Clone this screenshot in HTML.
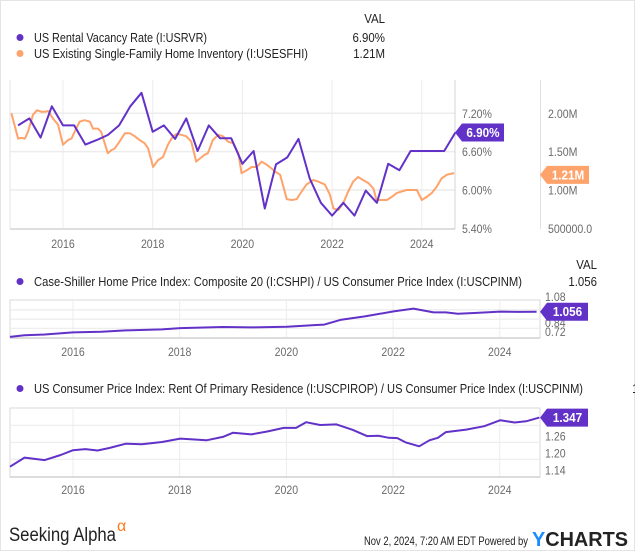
<!DOCTYPE html>
<html><head><meta charset="utf-8"><style>
html,body{margin:0;padding:0;background:#fff;}
svg{display:block;font-family:"Liberation Sans",sans-serif;}
</style></head><body>
<svg id="chart" width="635" height="551" viewBox="0 0 635 551">
<rect x="0.5" y="0.5" width="634" height="550" fill="#fff" stroke="#e4e4e4"/>
</svg>
<script>
// ---- Chart 1 data ----
const vacDates = [];
for (let i = 0; i < 40; i++) vacDates.push(2015 + i * 0.25);
const vacValues = [7.01,7.12,6.82,7.31, 7.01,7.01,6.71,6.78, 6.86,7.01,7.31,7.52, 6.91,7.01,6.80,7.12, 6.61,7.01,6.81,6.81, 6.41,6.61,5.71,6.40, 6.51,6.80,6.18,5.80, 5.60,5.80,5.60,5.99, 5.80,6.41,6.31,6.61, 6.61,6.61,6.61,6.90];
const invDates = [2014.85,2015.00,2015.07,2015.15,2015.22,2015.33,2015.42,2015.52,2015.59,2015.67,2015.78,2015.89,2016.00,2016.11,2016.19,2016.26,2016.37,2016.48,2016.60,2016.67,2016.78,2016.85,2017.00,2017.08,2017.15,2017.26,2017.38,2017.49,2017.60,2017.71,2017.82,2017.90,2018.01,2018.12,2018.23,2018.34,2018.45,2018.53,2018.64,2018.75,2018.86,2018.97,2019.05,2019.16,2019.23,2019.34,2019.46,2019.57,2019.68,2019.79,2019.91,2019.98,2020.10,2020.21,2020.32,2020.43,2020.54,2020.65,2020.73,2020.84,2020.99,2021.10,2021.21,2021.32,2021.43,2021.58,2021.69,2021.84,2021.95,2022.03,2022.14,2022.25,2022.36,2022.47,2022.58,2022.69,2022.81,2022.92,2022.99,2023.11,2023.22,2023.33,2023.44,2023.55,2023.66,2023.81,2023.89,2024.00,2024.11,2024.22,2024.33,2024.44,2024.56,2024.72];
const invValues = [2.00,1.67,1.68,1.67,1.76,1.98,2.04,2.02,2.02,2.03,1.93,1.85,1.59,1.65,1.67,1.76,1.89,1.91,1.89,1.80,1.80,1.76,1.48,1.52,1.54,1.63,1.74,1.74,1.70,1.65,1.61,1.54,1.30,1.39,1.43,1.59,1.70,1.73,1.72,1.70,1.63,1.37,1.41,1.46,1.48,1.65,1.72,1.70,1.63,1.61,1.48,1.22,1.26,1.30,1.30,1.37,1.33,1.28,1.24,1.20,0.88,0.87,0.88,0.98,1.07,1.13,1.11,1.07,0.94,0.76,0.74,0.83,0.98,1.11,1.17,1.13,1.09,1.02,0.87,0.87,0.87,0.91,0.96,0.98,1.00,1.00,1.00,0.87,0.91,0.96,1.04,1.15,1.20,1.22];
const yearTicks = [2016,2018,2020,2022,2024];
const vacTicks = [7.2,6.6,6.0,5.4];
const vacTickLabels = ["7.20%","6.60%","6.00%","5.40%"];
const invTicks = [2.0,1.5,1.0,0.5];
const invTickLabels = ["2.00M","1.50M","1.00M","500000.0"];
// ---- Chart 2 data ----
const hpiDates = [2014.82,2015.09,2015.47,2016.00,2016.53,2016.99,2017.67,2018.01,2018.81,2019.34,2020.01,2020.56,2020.71,2021.01,2021.47,2022.01,2022.38,2022.76,2022.99,2023.21,2023.52,2024.01,2024.35,2024.69];
const hpiValues = [0.728,0.750,0.759,0.786,0.794,0.812,0.826,0.843,0.857,0.852,0.861,0.883,0.888,0.950,0.995,1.061,1.097,1.048,1.048,1.030,1.039,1.058,1.054,1.056];
const hpiGrid = [1.08,0.96,0.84];
// ---- Chart 3 data ----
const rentDates = [2014.82,2015.09,2015.47,2015.77,2016.00,2016.23,2016.46,2016.68,2016.99,2017.29,2017.67,2018.01,2018.28,2018.50,2018.81,2019.00,2019.34,2019.64,2019.95,2020.18,2020.37,2020.63,2020.94,2021.24,2021.51,2021.73,2021.92,2022.08,2022.23,2022.49,2022.68,2022.84,2022.99,2023.37,2023.71,2024.01,2024.28,2024.51,2024.74];
const rentValues = [1.174,1.206,1.197,1.215,1.232,1.236,1.231,1.240,1.255,1.253,1.261,1.273,1.270,1.267,1.279,1.294,1.288,1.298,1.311,1.311,1.331,1.321,1.323,1.304,1.282,1.283,1.276,1.275,1.260,1.246,1.267,1.276,1.296,1.305,1.317,1.338,1.330,1.335,1.347];
const rentGrid = [1.32,1.26,1.20];
const rentTickLabels = ["1.26","1.20","1.14"];

const NS = "http://www.w3.org/2000/svg";
const svg = document.getElementById('chart');
function mk(tag, attrs, parent, text) {
  const e = document.createElementNS(NS, tag);
  for (const k in attrs) e.setAttribute(k, attrs[k]);
  if (text !== undefined) e.textContent = text;
  (parent || svg).appendChild(e);
  return e;
}
// condense text to mimic narrower reference font
function squeeze(t, f) {
  const w = t.getComputedTextLength();
  if (w > 0) { t.setAttribute('textLength', (w * f).toFixed(1)); t.setAttribute('lengthAdjust', 'spacingAndGlyphs'); }
  return t;
}
const PURPLE = "#6232c8", ORANGE = "#ffa36c", GRID = "#ececec", TICK = "#6b6b6b";

const x1 = yr => 63 + (yr - 2016) * 44.85;
const yVac = v => 113.3 + (7.2 - v) / 0.6 * 38.35;
const yInv = v => 113.3 + (2.0 - v) / 0.5 * 38.35;
const x2 = yr => 73 + (yr - 2016) * 53.35;
const yHpi = v => 328.3 - (v - 0.84) / 0.12 * 9.2;
const yRent = v => 459.3 - (v - 1.20) / 0.06 * 17;

function legendRow(y, color, label, value, name, vx, labelW) {
  const g = mk('g', {});
  
  
  mk('circle', {cx: 20, cy: y - 4.5, r: 3.5, fill: color}, g);
  mk('text', {x: 34, y: y, 'font-size': 13, fill: '#222', textLength: labelW, lengthAdjust: 'spacingAndGlyphs'}, g, label);
  if (value) squeeze(mk('text', {x: vx, y: y, 'font-size': 13, fill: '#222', 'text-anchor': 'end'}, g, value), 0.88);
}
function valueTag(x, y, w, color, text, name) {
  const g = mk('g', {});
  
  
  mk('path', {d: `M${x} ${y} L${x+7} ${y-9} L${x+w} ${y-9} L${x+w} ${y+9} L${x+7} ${y+9} Z`, fill: color}, g);
  squeeze(mk('text', {x: x + 7 + (w-7)/2, y: y + 4.5, 'font-size': 13, 'font-weight': 'bold', fill: '#fff', 'text-anchor': 'middle'}, g, text), 0.9);
}
function line(xs, ys, color, name) {
  const p = mk('polyline', {points: xs.map((x, i) => x.toFixed(1) + ',' + ys[i].toFixed(1)).join(' '), fill: 'none', stroke: color, 'stroke-width': 2, 'stroke-linejoin': 'round'});
  
  
}
function tick(x, y, s, anchor) {
  return squeeze(mk('text', {x: x, y: y, 'font-size': 12, fill: TICK, 'text-anchor': anchor || 'start'}, svg, s), 0.88);
}

// ===== Chart 1 =====
squeeze(mk('text', {x: 385, y: 23, 'font-size': 13, fill: '#222', 'text-anchor': 'end'}, svg, 'VAL'), 0.88);
legendRow(42, PURPLE, 'US Rental Vacancy Rate (I:USRVR)', '6.90%', 'legend-rental-vacancy', 385, 173);
legendRow(58, ORANGE, 'US Existing Single-Family Home Inventory (I:USESFHI)', '1.21M', 'legend-home-inventory', 385, 274);

yearTicks.forEach(yr => {
  const l = mk('line', {x1: x1(yr), x2: x1(yr), y1: 80, y2: 229, stroke: GRID, 'stroke-width': 1});
  
  tick(x1(yr), 248, String(yr), 'middle');
});
vacTicks.forEach((v, i) => {
  if (i < 3) mk('line', {x1: 10, x2: 455, y1: yVac(v), y2: yVac(v), stroke: GRID, 'stroke-width': 1.5});
  tick(462, yVac(v) + 4.5, vacTickLabels[i]);
});
invTicks.forEach((v, i) => {
  tick(548, yInv(v) + 4.5, invTickLabels[i]);
});
mk('line', {x1: 10, x2: 455, y1: 229, y2: 229, stroke: '#d4d4d4', 'stroke-width': 1.5});
mk('line', {x1: 10, x2: 10, y1: 80, y2: 229, stroke: '#e4e4e4', 'stroke-width': 1});
mk('line', {x1: 455, x2: 455, y1: 80, y2: 229, stroke: '#d4d4d4', 'stroke-width': 1});
mk('line', {x1: 540.5, x2: 540.5, y1: 80, y2: 229, stroke: '#e0e0e0', 'stroke-width': 1});
line(invDates.map(x1), invValues.map(yInv), ORANGE, 'inventory-line');
line(vacDates.map(x1), vacValues.map(yVac), PURPLE, 'vacancy-line');
valueTag(455, yVac(vacValues[vacValues.length-1]), 49, PURPLE, '6.90%', 'vacancy-value-tag');
valueTag(540, yInv(1.21) + 1, 49, ORANGE, '1.21M', 'inventory-value-tag');

// ===== Chart 2 =====
squeeze(mk('text', {x: 597, y: 269, 'font-size': 13, fill: '#222', 'text-anchor': 'end'}, svg, 'VAL'), 0.88);
legendRow(286, PURPLE, 'Case-Shiller Home Price Index: Composite 20 (I:CSHPI) / US Consumer Price Index (I:USCPINM)', '1.056', 'legend-hpi-ratio', 597, 488);
mk('rect', {x: 10, y: 300, width: 530, height: 38, fill: 'none', stroke: '#d8d8d8', 'stroke-width': 1});
hpiGrid.forEach(v => mk('line', {x1: 10, x2: 540, y1: yHpi(v), y2: yHpi(v), stroke: GRID, 'stroke-width': 1.2}));
yearTicks.forEach(yr => {
  mk('line', {x1: x2(yr), x2: x2(yr), y1: 300, y2: 338, stroke: GRID, 'stroke-width': 1});
  tick(x2(yr), 356, String(yr), 'middle');
});
tick(545, 301, '1.08');
tick(545, 327, '0.84');
tick(545, 336, '0.72');
mk('line', {x1: 10, x2: 540, y1: 338, y2: 338, stroke: '#d0d0d0', 'stroke-width': 1.5});
line(hpiDates.map(x2), hpiValues.map(yHpi), PURPLE, 'hpi-ratio-line');
valueTag(540, yHpi(hpiValues[hpiValues.length-1]), 48, PURPLE, '1.056', 'hpi-value-tag');

// ===== Chart 3 =====
legendRow(393, PURPLE, 'US Consumer Price Index: Rent Of Primary Residence (I:USCPIROP) / US Consumer Price Index (I:USCPINM)', null, 'legend-rent-ratio', 0, 549);
mk('text', {x: 632, y: 393, 'font-size': 13, fill: '#222'}, svg, '1');
mk('rect', {x: 10, y: 408, width: 530, height: 69, fill: 'none', stroke: '#d8d8d8', 'stroke-width': 1});
rentGrid.forEach(v => mk('line', {x1: 10, x2: 540, y1: yRent(v), y2: yRent(v), stroke: GRID, 'stroke-width': 1.2}));
rentTickLabels.forEach((s, i) => {
  tick(545, yRent(rentGrid[i]) + 15, s);
});
yearTicks.forEach(yr => {
  mk('line', {x1: x2(yr), x2: x2(yr), y1: 408, y2: 477, stroke: GRID, 'stroke-width': 1});
  tick(x2(yr), 494, String(yr), 'middle');
});
mk('line', {x1: 10, x2: 540, y1: 477, y2: 477, stroke: '#d0d0d0', 'stroke-width': 1.5});
line(rentDates.map(x2), rentValues.map(yRent), PURPLE, 'rent-ratio-line');
valueTag(540, yRent(rentValues[rentValues.length-1]), 48, PURPLE, '1.347', 'rent-value-tag');

// ===== Footer =====
const sa = mk('text', {x: 9, y: 541, 'font-size': 19, fill: '#222', textLength: 107, lengthAdjust: 'spacingAndGlyphs'}, svg, 'Seeking Alpha');


mk('text', {x: 117, y: 531, 'font-size': 16, fill: '#ff7a1a'}, svg, 'α');
const ts = mk('text', {x: 364, y: 545, 'font-size': 12, fill: '#222', textLength: 164, lengthAdjust: 'spacingAndGlyphs'}, svg, 'Nov 2, 2024, 7:20 AM EDT Powered by');

const yc = mk('text', {x: 532, y: 546, 'font-size': 20, 'font-weight': 'bold', fill: '#222', textLength: 96, lengthAdjust: 'spacingAndGlyphs'}, svg);


mk('tspan', {fill: '#1a8cff'}, yc, 'Y');
mk('tspan', {}, yc, 'CHARTS');
</script>
</body></html>
